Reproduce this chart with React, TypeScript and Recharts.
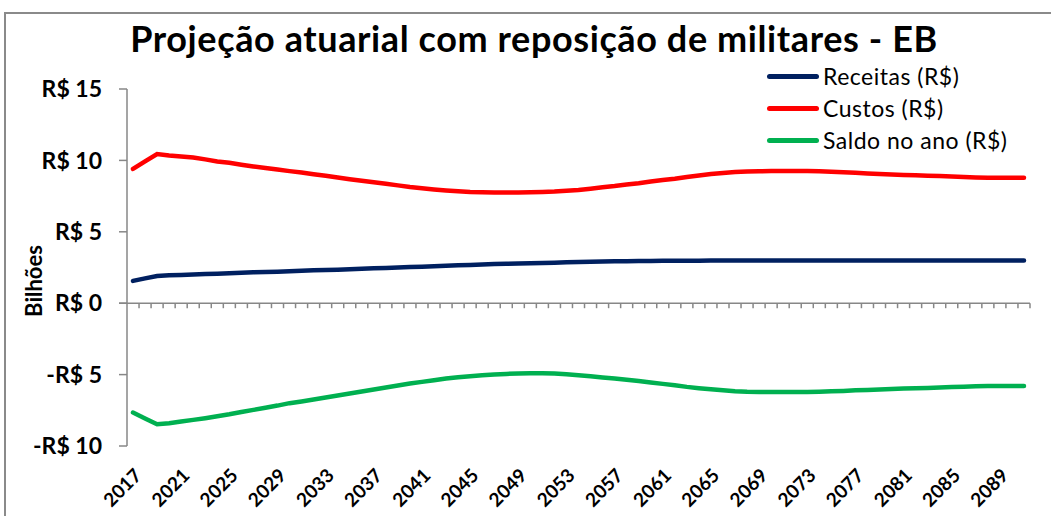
import React from 'react';
import { LineChart, Line, XAxis, YAxis, Legend, ReferenceLine, Label } from 'recharts';

const years = [
  2017, 2018, 2019, 2020, 2021, 2022, 2023, 2024, 2025, 2026,
  2027, 2028, 2029, 2030, 2031, 2032, 2033, 2034, 2035, 2036,
  2037, 2038, 2039, 2040, 2041, 2042, 2043, 2044, 2045, 2046,
  2047, 2048, 2049, 2050, 2051, 2052, 2053, 2054, 2055, 2056,
  2057, 2058, 2059, 2060, 2061, 2062, 2063, 2064, 2065, 2066,
  2067, 2068, 2069, 2070, 2071, 2072, 2073, 2074, 2075, 2076,
  2077, 2078, 2079, 2080, 2081, 2082, 2083, 2084, 2085, 2086,
  2087, 2088, 2089, 2090, 2091,
];

// bilhões de R$
const receitas = [
  1.56, 1.74, 1.91, 1.95, 1.98, 2.01, 2.04, 2.07, 2.1, 2.13,
  2.16, 2.19, 2.21, 2.24, 2.27, 2.3, 2.32, 2.35, 2.38, 2.41,
  2.44, 2.47, 2.5, 2.53, 2.56, 2.59, 2.62, 2.65, 2.68, 2.71,
  2.74, 2.76, 2.78, 2.8, 2.82, 2.84, 2.86, 2.88, 2.9, 2.92,
  2.93, 2.94, 2.95, 2.96, 2.97, 2.98, 2.98, 2.98, 2.99, 2.99,
  2.99, 2.99, 2.99, 2.99, 2.99, 2.99, 2.99, 2.99, 2.99, 2.99,
  2.99, 2.99, 2.99, 2.99, 2.99, 2.99, 2.99, 2.99, 2.99, 2.99,
  2.99, 2.99, 2.99, 2.99, 2.99,
];

const custos = [
  9.4, 9.93, 10.45, 10.35, 10.27, 10.2, 10.07, 9.93, 9.83, 9.7,
  9.58, 9.47, 9.36, 9.25, 9.15, 9.03, 8.92, 8.8, 8.68, 8.57,
  8.47, 8.36, 8.25, 8.14, 8.05, 7.97, 7.9, 7.84, 7.79, 7.77,
  7.76, 7.76, 7.76, 7.77, 7.79, 7.82, 7.87, 7.93, 8.02, 8.12,
  8.2, 8.31, 8.4, 8.52, 8.62, 8.72, 8.84, 8.94, 9.05, 9.12,
  9.18, 9.22, 9.24, 9.25, 9.25, 9.25, 9.25, 9.24, 9.21, 9.17,
  9.13, 9.08, 9.04, 9.01, 8.98, 8.96, 8.93, 8.9, 8.87, 8.84,
  8.81, 8.79, 8.78, 8.78, 8.78,
];

const saldo = [
  -7.66, -8.07, -8.48, -8.4, -8.29, -8.17, -8.05, -7.92, -7.78, -7.62,
  -7.47, -7.32, -7.17, -7.0, -6.88, -6.75, -6.61, -6.47, -6.33, -6.18,
  -6.04, -5.9, -5.77, -5.63, -5.51, -5.39, -5.28, -5.19, -5.11, -5.05,
  -4.99, -4.95, -4.92, -4.91, -4.91, -4.93, -4.98, -5.04, -5.12, -5.2,
  -5.27, -5.36, -5.45, -5.55, -5.65, -5.75, -5.86, -5.95, -6.03, -6.1,
  -6.16, -6.2, -6.22, -6.22, -6.22, -6.22, -6.22, -6.2, -6.17, -6.14,
  -6.1, -6.07, -6.04, -6.01, -5.98, -5.96, -5.93, -5.9, -5.87, -5.85,
  -5.82, -5.8, -5.8, -5.8, -5.8,
];

const yTicks = [-10, -5, 0, 5, 10, 15];

const data = years.map((ano, i) => ({
  ano: String(ano),
  receitas: receitas[i],
  custos: custos[i],
  saldo: saldo[i],
}));

const series = [
  { key: 'receitas', name: 'Receitas (R$)', color: '#002060' },
  { key: 'custos', name: 'Custos (R$)', color: '#FF0000' },
  { key: 'saldo', name: 'Saldo no ano (R$)', color: '#00B050' },
];

const FONT = 'Lato, "Open Sans", sans-serif';
const AXIS_GREY = '#878787';

const fmtReais = (v: number) => (v < 0 ? `-R$ ${-v}` : `R$ ${v}`);

const YearTick = (props: any) => {
  const { x, y, payload } = props;
  return (
    <g transform={`translate(${x + 5},${y + 18})`}>
      <text
        textAnchor="end"
        transform="rotate(-45)"
        fontFamily={FONT}
        fontWeight={700}
        fontSize={19}
        fill="#000"
        dy="0.35em"
      >
        {payload.value}
      </text>
    </g>
  );
};

// linha do eixo em zero com marcas entre as categorias
const ZeroAxis = (props: any) => {
  const { x1, x2, y1 } = props;
  const n = years.length;
  const step = (x2 - x1) / n;
  const marks = [];
  for (let i = 1; i <= n; i++) {
    const xx = x1 + i * step;
    marks.push(<line key={i} x1={xx} x2={xx} y1={y1} y2={y1 + 5} stroke={AXIS_GREY} strokeWidth={1.5} />);
  }
  return (
    <g>
      <line x1={x1 - 8} x2={x2} y1={y1} y2={y1} stroke={AXIS_GREY} strokeWidth={1.5} />
      {marks}
    </g>
  );
};

const LegendBox = () => (
  <div style={{ fontFamily: FONT, fontSize: 23, letterSpacing: 0.5, color: '#000' }}>
    {series.map((s) => (
      <div key={s.key} style={{ display: 'flex', alignItems: 'center', height: 32 }}>
        <div style={{ width: 52, height: 5, borderRadius: 3, background: s.color, marginRight: 4 }} />
        <span>{s.name}</span>
      </div>
    ))}
  </div>
);

export default function App() {
  return (
    <div style={{ position: 'absolute', left: 0, top: 0, width: 1051, height: 516, background: '#fff', overflow: 'hidden' }}>
      <div style={{ position: 'absolute', left: 4, top: 12, width: 1100, height: 600, borderTop: '2px solid #8a8a8a', borderLeft: '2px solid #8a8a8a' }} />
      <div
        style={{
          position: 'absolute',
          left: 0,
          width: 1068,
          top: 17,
          textAlign: 'center',
          fontFamily: FONT,
          fontWeight: 700,
          fontSize: 36,
          letterSpacing: 0.6,
          color: '#000',
          lineHeight: '42px',
        }}
      >
        Projeção atuarial com reposição de militares - EB
      </div>
      <div style={{ position: 'absolute', left: 0, top: 0 }}>
        <LineChart width={1051} height={516} data={data} margin={{ top: 89, right: 21, bottom: 0, left: 0 }}>
          <XAxis
            dataKey="ano"
            interval={3}
            padding={{ left: 6, right: 6 }}
            axisLine={false}
            tickLine={false}
            tick={<YearTick />}
            height={70}
          />
          <YAxis
            domain={[-10, 15]}
            ticks={yTicks}
            width={127}
            tickFormatter={fmtReais}
            axisLine={{ stroke: AXIS_GREY, strokeWidth: 1.5 }}
            tickLine={{ stroke: AXIS_GREY, strokeWidth: 1.5 }}
            tickSize={8}
            tickMargin={17}
            tick={{ fontFamily: FONT, fontWeight: 700, fontSize: 23, fill: '#000' }}
          >
            <Label
              content={() => (
                <text
                  x={42}
                  y={281}
                  transform="rotate(-90 42 281)"
                  textAnchor="middle"
                  fontFamily={FONT}
                  fontWeight={700}
                  fontSize={22}
                  fill="#000"
                >
                  Bilhões
                </text>
              )}
            />
          </YAxis>
          <ReferenceLine y={0} shape={<ZeroAxis />} />
          {series.map((s) => (
            <Line
              key={s.key}
              type="linear"
              dataKey={s.key}
              name={s.name}
              stroke={s.color}
              strokeWidth={4.5}
              strokeLinecap="round"
              dot={false}
              activeDot={false}
              isAnimationActive={false}
            />
          ))}
          <Legend
            layout="vertical"
            verticalAlign="middle"
            align="center"
            content={<LegendBox />}
            wrapperStyle={{ left: 767, top: 60, width: 280 }}
          />
        </LineChart>
      </div>
    </div>
  );
}
